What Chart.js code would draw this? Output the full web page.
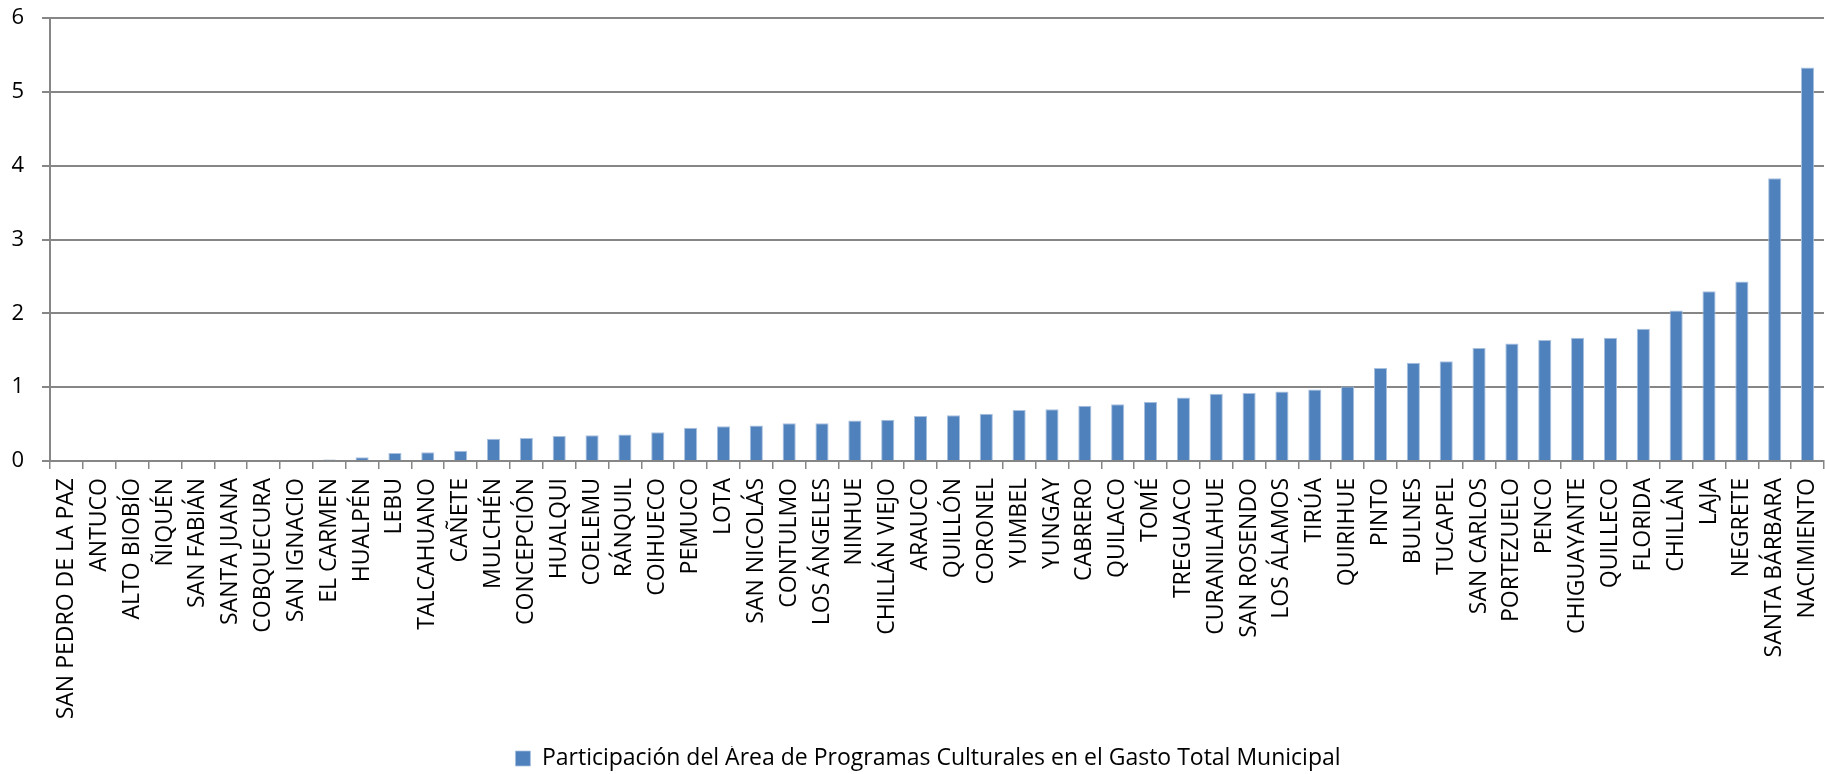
<!DOCTYPE html>
<html>
<head>
<meta charset="utf-8">
<script src="https://cdn.jsdelivr.net/npm/chart.js@4.4.0/dist/chart.umd.min.js"></script>
<style>
  html, body { margin: 0; padding: 0; background: #ffffff; }
  #c { display: block; }
</style>
</head>
<body>
<canvas id="c" width="1825" height="774"></canvas>
<script>
const categories = [
  "SAN PEDRO DE LA PAZ", "ANTUCO", "ALTO BIOBÍO", "ÑIQUÉN", "SAN FABIÁN", "SANTA JUANA",
  "COBQUECURA", "SAN IGNACIO", "EL CARMEN", "HUALPÉN", "LEBU", "TALCAHUANO", "CAÑETE",
  "MULCHÉN", "CONCEPCIÓN", "HUALQUI", "COELEMU", "RÁNQUIL", "COIHUECO", "PEMUCO", "LOTA",
  "SAN NICOLÁS", "CONTULMO", "LOS ÁNGELES", "NINHUE", "CHILLÁN VIEJO", "ARAUCO", "QUILLÓN",
  "CORONEL", "YUMBEL", "YUNGAY", "CABRERO", "QUILACO", "TOMÉ", "TREGUACO", "CURANILAHUE",
  "SAN ROSENDO", "LOS ÁLAMOS", "TIRÚA", "QUIRIHUE", "PINTO", "BULNES", "TUCAPEL",
  "SAN CARLOS", "PORTEZUELO", "PENCO", "CHIGUAYANTE", "QUILLECO", "FLORIDA", "CHILLÁN",
  "LAJA", "NEGRETE", "SANTA BÁRBARA", "NACIMIENTO"
];
const participacion = [
  0, 0, 0, 0, 0, 0,
  0, 0, 0.02, 0.05, 0.11, 0.12, 0.14,
  0.30, 0.31, 0.34, 0.35, 0.36, 0.39, 0.45, 0.47,
  0.48, 0.51, 0.51, 0.55, 0.56, 0.61, 0.62,
  0.64, 0.69, 0.70, 0.75, 0.77, 0.80, 0.86, 0.91,
  0.92, 0.94, 0.97, 1.01, 1.26, 1.33, 1.35,
  1.53, 1.59, 1.64, 1.67, 1.67, 1.79, 2.04,
  2.30, 2.43, 3.83, 5.33
];
const seriesName = "Participación del Área de Programas Culturales en el Gasto Total Municipal";
const yTicks = [0, 1, 2, 3, 4, 5, 6];

Chart.defaults.font.family = "'Open Sans', 'Noto Sans', sans-serif";
Chart.defaults.color = "#000000";

const legendShift = {
  id: "legendShift",
  afterLayout(chart) {
    const l = chart.legend;
    if (l) { l.left += 16; l.right += 16; l.top += 6; l.bottom += 6; }
  }
};

new Chart(document.getElementById("c"), {
  type: "bar",
  data: {
    labels: categories,
    datasets: [{
      label: seriesName,
      data: participacion,
      backgroundColor: "#4F81BD",
      borderColor: "#A9C1DF",
      borderWidth: { left: 1, right: 1, top: 1, bottom: 0 },
      borderSkipped: "start",
      barPercentage: 0.4,
      categoryPercentage: 1.0
    }]
  },
  plugins: [legendShift],
  options: {
    responsive: false,
    animation: false,
    layout: { padding: { top: 18, right: 1, bottom: 0, left: 0 } },
    plugins: {
      tooltip: { enabled: false },
      legend: {
        position: "bottom",
        labels: {
          boxWidth: 15,
          boxHeight: 15,
          padding: 1,
          color: "#000000",
          font: { size: 23 }
        }
      }
    },
    scales: {
      x: {
        offset: true,
        grid: {
          offset: true,
          drawOnChartArea: false,
          drawTicks: true,
          tickLength: 8,
          color: "#868686",
          lineWidth: 1.5
        },
        border: { color: "#868686", width: 2 },
        ticks: {
          autoSkip: false,
          maxRotation: 90,
          minRotation: 90,
          padding: 9,
          color: "#000000",
          font: { size: 23 }
        },
        afterFit: function (scale) {
          scale.height = 279;
          scale.paddingLeft = 0; scale.paddingRight = 0;
          scale.paddingTop = 0; scale.paddingBottom = 0;
        }
      },
      y: {
        min: 0,
        max: 6,
        afterBuildTicks: function (scale) { scale.ticks = yTicks.map(v => ({ value: v })); },
        grid: {
          color: "#868686",
          lineWidth: 2,
          tickLength: 8
        },
        border: { color: "#868686", width: 2 },
        ticks: {
          padding: 18,
          color: "#000000",
          font: { size: 22 }
        },
        afterFit: function (scale) {
          scale.width = 50;
          scale.paddingLeft = 0; scale.paddingRight = 0;
          scale.paddingTop = 0; scale.paddingBottom = 0;
        }
      }
    }
  }
});
</script>
</body>
</html>
